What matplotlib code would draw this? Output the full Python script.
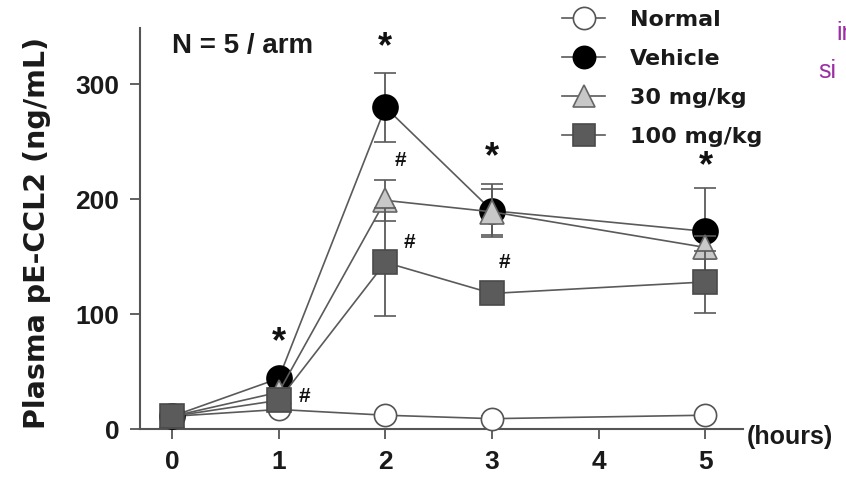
import matplotlib
matplotlib.use("Agg")
import matplotlib.pyplot as plt
from matplotlib.lines import Line2D

plt.rcParams['font.family'] = ['Liberation Sans', 'DejaVu Sans']

hours = [0, 1, 2, 3, 5]
normal = [11, 17, 12, 9, 12]
normal_err = [1, 2, 2, 2, 2]
vehicle = [11, 44, 280, 190, 172]
vehicle_err = [2, 5, 30, 23, 38]
mg30 = [11, 32, 199, 189, 158]
mg30_err = [2, 4, 18, 20, 10]
mg100 = [11, 25, 145, 118, 128]
mg100_err = [2, 4, 47, 6, 27]

labels = ["Normal", "Vehicle", "30 mg/kg", "100 mg/kg"]
star_x = [1, 2, 3, 5]
star_y = [75, 332, 236, 228]
hash_x = [1.24, 2.14, 2.23, 3.12]
hash_y = [28, 234, 162, 145]

fig = plt.figure(figsize=(8.46, 4.78), dpi=100)
ax = fig.add_axes([0.1655, 0.1025, 0.878 - 0.1655, 0.9414 - 0.1025])

line_c = "#5a5a5a"
styles = [
    dict(marker="o", mfc="white", mec="#555555", ms=16),
    dict(marker="o", mfc="black", mec="black", ms=18),
    dict(marker="^", mfc="#c8c8c8", mec="#666666", ms=17),
    dict(marker="s", mfc="#5b5b5b", mec="#4a4a4a", ms=17),
]
series = [(normal, normal_err), (vehicle, vehicle_err), (mg30, mg30_err), (mg100, mg100_err)]
for i, ((y, e), st) in enumerate(zip(series, styles)):
    ax.errorbar(hours, y, yerr=e, color=line_c, lw=1.2, elinewidth=1.3,
                capsize=8, capthick=1.3, marker=st["marker"], ms=st["ms"],
                mfc=st["mfc"], mec=st["mec"], mew=1.2, zorder=3 + i, clip_on=False)

for x, y in zip(star_x, star_y):
    ax.text(x, y, "*", ha="center", va="center", fontsize=26, fontweight="bold", color="#111111")
for x, y in zip(hash_x, hash_y):
    ax.text(x, y, "#", ha="center", va="center", fontsize=15, fontweight="bold", color="#111111")

ax.set_xlim(-0.3, 5.35)
ax.set_ylim(0, 349)
ax.set_xticks([0, 1, 2, 3, 4, 5])
ax.set_yticks([0, 100, 200, 300])
for s in ["top", "right"]:
    ax.spines[s].set_visible(False)
for s in ["left", "bottom"]:
    ax.spines[s].set_color("#555555")
    ax.spines[s].set_linewidth(1.5)
ax.tick_params(axis="both", direction="out", length=7, width=1.3, color="#555555",
               labelsize=19, pad=8)
for t in ax.get_xticklabels() + ax.get_yticklabels():
    t.set_fontweight("bold")
    t.set_color("#1a1a1a")
ax.set_ylabel("Plasma pE-CCL2 (ng/mL)", fontsize=20.5, fontweight="bold", color="#1a1a1a",
              family=["DejaVu Sans"])
ax.yaxis.set_label_coords(-0.148, 0.49)

fig.text(790 / 846, 1 - 437 / 478, "(hours)", ha="center", va="center", fontsize=18,
         fontweight="bold", color="#1a1a1a")
ax.text(0.053, 0.955, "N = 5 / arm", transform=ax.transAxes, ha="left", va="center",
        fontsize=20, fontweight="bold", color="#1a1a1a")

handles = [Line2D([0], [0], color=line_c, lw=1.2, marker=st["marker"], ms=16,
                  mfc=st["mfc"], mec=st["mec"], mew=1.2) for st in styles]
fig.legend(handles, labels, loc="upper left", bbox_to_anchor=(562 / 846, 1 - 10 / 478),
           frameon=False, prop=dict(size=16, weight="bold", family="DejaVu Sans"),
           handlelength=1.95, borderpad=0, borderaxespad=0,
           labelspacing=0.85, handletextpad=1.1, labelcolor="#1a1a1a")

fig.text(836 / 846, 1 - 33 / 478, "in", ha="left", va="center", fontsize=18, color="#9b2fa3")
fig.text(818 / 846, 1 - 71 / 478, "si", ha="left", va="center", fontsize=18, color="#9b2fa3")

fig.savefig("out.png", dpi=100)
